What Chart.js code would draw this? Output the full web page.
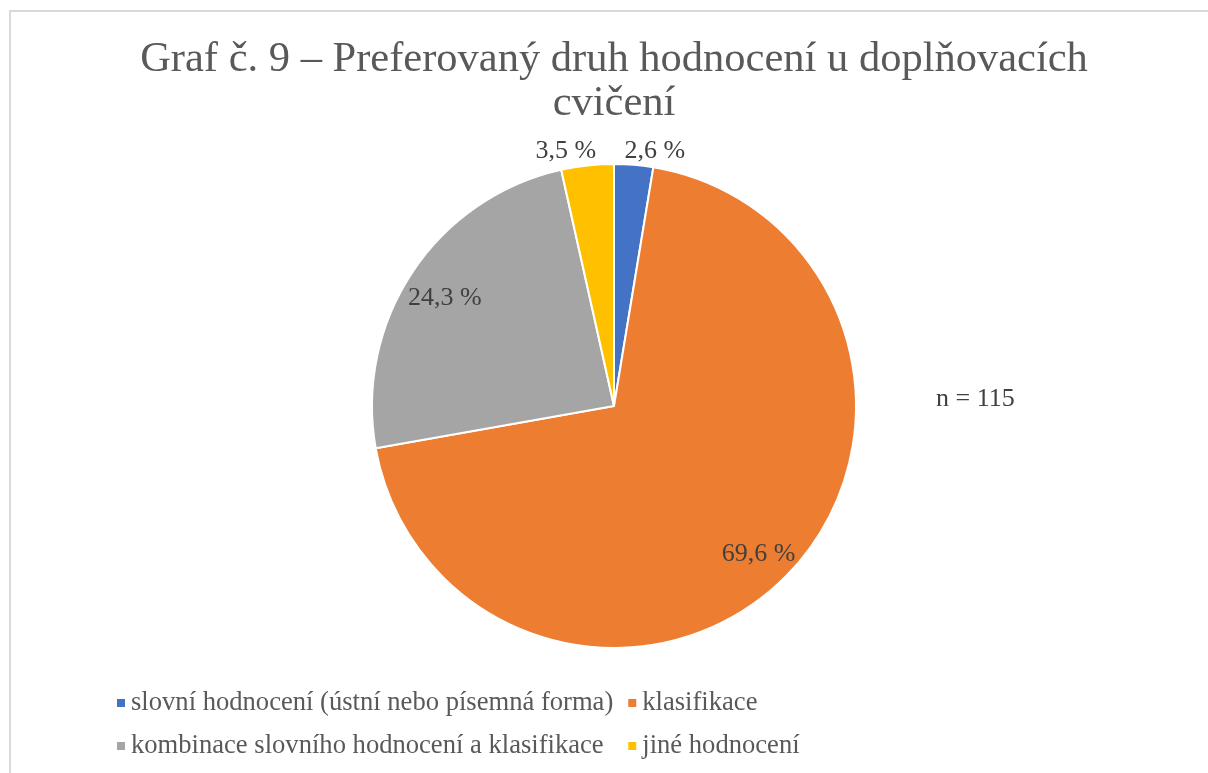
<!DOCTYPE html>
<html>
<head>
<meta charset="utf-8">
<script src="https://cdn.jsdelivr.net/npm/chart.js@4.4.1/dist/chart.umd.min.js"></script>
<style>
  body { margin: 0; background: #fff; }
  #wrap { width: 1208px; height: 773px; position: relative; }
</style>
</head>
<body>
<div id="wrap"><canvas id="chart"></canvas></div>
<script>
const categories = [
  "slovní hodnocení (ústní nebo písemná forma)",
  "klasifikace",
  "kombinace slovního hodnocení a klasifikace",
  "jiné hodnocení"
];
const shares = [2.6, 69.6, 24.3, 3.5];
const sliceColors = ["#4472C4", "#ED7D31", "#A5A5A5", "#FFC000"];
const sampleSize = 115;
const titleLines = ["Graf č. 9 – Preferovaný druh hodnocení u doplňovacích", "cvičení"];

const serif = '"Liberation Serif", "Times New Roman", serif';
const fmt = (v) => v.toFixed(1).replace(".", ",") + " %";

// title, legend, labels and the frame are drawn by hand, Excel-style
const decor = {
  id: "decor",
  beforeDraw(chart) {
    const ctx = chart.ctx;
    ctx.save();
    ctx.strokeStyle = "#D9D9D9";
    ctx.lineWidth = 2;
    ctx.strokeRect(10, 11, chart.width + 20, chart.height + 20);
    ctx.restore();
  },
  afterDraw(chart) {
    const ctx = chart.ctx;
    ctx.save();

    // title
    ctx.fillStyle = "#595959";
    ctx.font = "42.5px " + serif;
    ctx.textAlign = "center";
    ctx.textBaseline = "middle";
    ctx.fillText(titleLines[0], 614, 60);
    ctx.fillText(titleLines[1], 614, 104);

    // slice labels
    const arcs = chart.getDatasetMeta(0).data;
    ctx.font = "26px " + serif;
    ctx.fillStyle = "#404040";
    arcs.forEach((arc, i) => {
      const p = arc.getProps(["x", "y", "startAngle", "endAngle", "outerRadius"], true);
      const mid = (p.startAngle + p.endAngle) / 2;
      const small = shares[i] < 5;
      const r = small ? p.outerRadius + 14 : p.outerRadius * 0.84;
      let x = p.x + Math.cos(mid) * r;
      let y = p.y + Math.sin(mid) * r;
      if (small) x += Math.cos(mid) >= 0 ? 20 : -20;
      else y += 5;
      ctx.textAlign = "center";
      ctx.fillText(fmt(shares[i]), x, y);
    });

    // sample size note
    ctx.textAlign = "left";
    ctx.fillText("n = " + sampleSize, 936, 399);

    // legend in two columns
    ctx.font = "26.6px " + serif;
    const col1 = 117, gap = 15, box = 8, textOff = 14;
    const w0 = Math.max(ctx.measureText(categories[0]).width, ctx.measureText(categories[2]).width);
    const col2 = col1 + textOff + w0 + gap;
    const rows = [703, 746];
    categories.forEach((c, i) => {
      const x = i % 2 === 0 ? col1 : col2;
      const y = rows[Math.floor(i / 2)];
      ctx.fillStyle = sliceColors[i];
      ctx.fillRect(x, y - box / 2, box, box);
      ctx.fillStyle = "#595959";
      ctx.fillText(c, x + textOff, y);
    });

    ctx.restore();
  }
};

new Chart(document.getElementById("chart"), {
  type: "pie",
  data: {
    labels: categories,
    datasets: [{
      data: shares,
      backgroundColor: sliceColors,
      borderColor: "#FFFFFF",
      borderWidth: 2,
      hoverOffset: 0
    }]
  },
  options: {
    responsive: true,
    maintainAspectRatio: false,
    animation: false,
    events: [],
    layout: { padding: { top: 163, bottom: 124, left: 20, right: 0 } },
    plugins: {
      legend: { display: false },
      title: { display: false },
      tooltip: { enabled: false }
    }
  },
  plugins: [decor]
});
</script>
</body>
</html>
